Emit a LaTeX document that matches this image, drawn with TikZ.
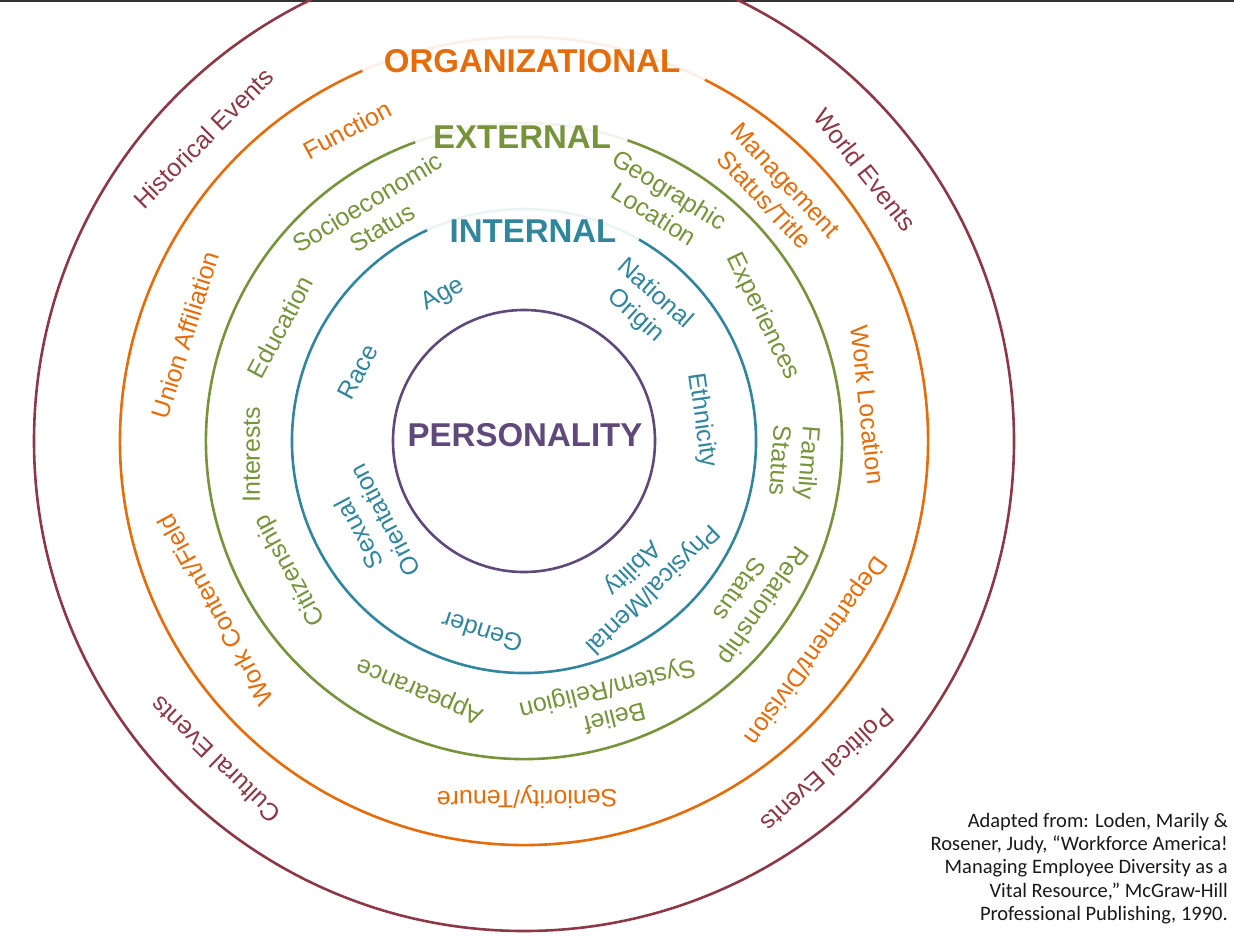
\documentclass[tikz,border=0pt]{standalone}
\usepackage{fontspec}
\setmainfont{Liberation Sans}
\newfontfamily\citefont{Carlito}
\usepackage{xcolor}
\usepackage{tikz}
\usetikzlibrary{positioning}
\definecolor{divred}{RGB}{140,56,70}
\definecolor{divorange}{RGB}{228,108,10}
\definecolor{divgreen}{RGB}{119,147,60}
\definecolor{divblue}{RGB}{49,133,156}
\definecolor{divpurple}{RGB}{95,73,122}
\tikzset{
  ring/.style={line width=2.6pt},
  gapring/.style={line width=2.6pt, opacity=0.10},
  heading/.style={font=\fontsize{33}{37}\selectfont\bfseries, inner sep=0pt},
  facet/.style={font=\fontsize{25}{29}\selectfont, align=center, inner sep=0pt},
  source/.style={font=\citefont\fontsize{20.5}{23.2}\selectfont, align=right,
    anchor=north east, inner sep=0pt, text=black!90},
}

\begin{document}
\begin{tikzpicture}[x=1pt, y=1pt]
  \useasboundingbox (0,0) rectangle (1234,-938);
  \clip (0,0) rectangle (1234,-938);
  \draw[line width=2pt, black!80] (0,-1) -- (1234,-1);

  \begin{scope}[shift={(524,-441)}]
    \def\PersRadius{131}
    \def\OuterRadius{490}

    % rings
    \draw[ring, divpurple] (0,0) circle (\PersRadius);
    \draw[ring, divred] (0,0) circle (\OuterRadius);
    \foreach \rad/\col/\from/\to in {404/divorange/63.4/113.6,
        318/divgreen/71/110, 232/divblue/60.3/114.7} {
      \draw[gapring, color=\col] (\from:\rad)
        arc[start angle=\from, end angle=\to, radius=\rad];
      \draw[ring, color=\col] (\to:\rad)
        arc[start angle=\to, end angle=\from+360, radius=\rad];
    }

    % ring titles
    \node[heading, text=divorange] (orgtitle) at (8,380) {ORGANIZATIONAL};
    \node[heading, text=divgreen] (exttitle) at (-2,304) {EXTERNAL};
    \node[heading, text=divblue] (inttitle) at (9,210) {INTERNAL};
    \node[heading, text=divpurple] (perstitle) at (1,6) {PERSONALITY};

    % outer ring
    \node[facet, text=divred, rotate=45] (historical) at (136.6:441) {Historical Events};
    \node[facet, text=divred, rotate=-51.5] (world) at (38.5:436) {World Events};
    \node[facet, text=divred, rotate=135.9] (cultural) at (225.9:444) {Cultural Events};
    \node[facet, text=divred, rotate=-137.3] (political) at (-47.3:448) {Political Events};

    % organizational ring
    \node[facet, text=divorange, rotate=28] (function) at (119.6:358) {Function};
    \node[facet, text=divorange, rotate=-47] (management) at (45:355) {Management\\Status/Title};
    \node[facet, text=divorange, rotate=72.6] (union) at (162.6:355) {Union Affiliation};
    \node[facet, text=divorange, rotate=-84] (worklocation) at (6:346) {Work Location};
    \node[facet, text=divorange, rotate=118.7] (workcontent) at (208.7:352) {Work Content/Field};
    \node[facet, text=divorange, rotate=-125.7] (department) at (-35.7:358) {Department/Division};
    \node[facet, text=divorange, rotate=180.5] (seniority) at (-89.5:356) {Seniority/Tenure};

    % external ring
    \node[facet, text=divgreen, rotate=31] (socio) at (123.4:271) {Socioeconomic\\Status};
    \node[facet, text=divgreen, rotate=-32] (geographic) at (60:276) {Geographic\\Location};
    \node[facet, text=divgreen, rotate=62] (education) at (155:269) {Education};
    \node[facet, text=divgreen, rotate=-64] (experiences) at (27.6:269) {Experiences};
    \node[facet, text=divgreen, rotate=90] (interests) at (182.9:273) {Interests};
    \node[facet, text=divgreen, rotate=-94.4] (family) at (-4.4:272) {Family\\Status};
    \node[facet, text=divgreen, rotate=118.9] (citizenship) at (208.9:267) {Citizenship};
    \node[facet, text=divgreen, rotate=-125] (relationship) at (-34.5:277) {Relationship\\Status};
    \node[facet, text=divgreen, rotate=157.3] (appearance) at (247.3:270) {Appearance};
    \node[facet, text=divgreen, rotate=-166] (belief) at (-71.6:275) {Belief\\System/Religion};

    % internal ring
    \node[facet, text=divblue, rotate=29] (age) at (119:167) {Age};
    \node[facet, text=divblue, rotate=-41.7] (national) at (48.3:182) {National\\Origin};
    \node[facet, text=divblue, rotate=62] (race) at (157.4:180) {Race};
    \node[facet, text=divblue, rotate=-82] (ethnicity) at (6.7:179) {Ethnicity};
    \node[facet, text=divblue, rotate=118] (sexual) at (209.5:175) {Sexual\\Orientation};
    \node[facet, text=divblue, rotate=-136] (physical) at (-49.3:181) {Physical/Mental\\Ability};
    \node[facet, text=divblue, rotate=162] (gender) at (257.6:196) {Gender};
  \end{scope}

  \node[source] (credit) at (1228,-813) {Adapted from: Loden, Marily \&\\
    Rosener, Judy, “Workforce America!\\
    Managing Employee Diversity as a\\
    Vital Resource,” McGraw-Hill\\
    Professional Publishing, 1990.};
\end{tikzpicture}
\end{document}
